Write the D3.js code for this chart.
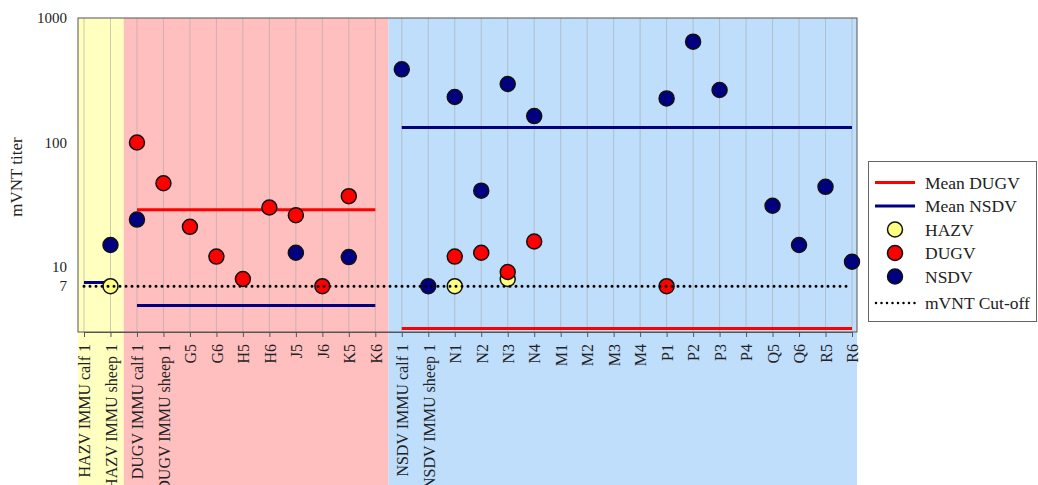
<!DOCTYPE html>
<html>
<head>
<meta charset="utf-8">
<script src="https://cdn.jsdelivr.net/npm/d3@7"></script>
<style>
  html, body { margin: 0; padding: 0; background: #fff; }
  svg { display: block; font-family: "Liberation Serif", "DejaVu Serif", serif; }
</style>
</head>
<body>
<svg id="chart" width="1038" height="485"></svg>
<script>
// Sample categories along the x axis
const categories = [
  "HAZV IMMU calf 1", "HAZV IMMU sheep 1",
  "DUGV IMMU calf 1", "DUGV IMMU sheep 1", "G5", "G6", "H5", "H6", "J5", "J6", "K5", "K6",
  "NSDV IMMU calf 1", "NSDV IMMU sheep 1", "N1", "N2", "N3", "N4", "M1", "M2", "M3", "M4",
  "P1", "P2", "P3", "P4", "Q5", "Q6", "R5", "R6"
];

// mVNT titers per virus (null = not detected)
const hazv = [null, 7, null, null, null, null, null, null, null, null, null, null,
  null, null, 7, null, 8, null, null, null, null, null, null, null, null, null, null, null, null, null];
const dugv = [null, null, 100, 47, 21, 12.1, 8, 30, 26, 7, 37, null,
  null, null, 12.1, 13, 9.1, 16, null, null, null, null, 7, null, null, null, null, null, null, null];
const nsdv = [null, 15, 24, null, null, null, null, null, 13, null, 12, null,
  387, 7, 232, 41, 295, 163, null, null, null, null, 226, 645, 264, null, 31, 15, 44, 11];

// Immunisation groups (shaded bands)
const groupNames = ["HAZV", "DUGV", "NSDV"];
const groupFirst = ["HAZV IMMU calf 1", "DUGV IMMU calf 1", "NSDV IMMU calf 1"];
const groupLast = ["HAZV IMMU sheep 1", "K6", "R6"];
const groupColors = ["#ffffc0", "#ffbfbf", "#bfdefc"];

// Group means
const meanDUGV = [
  { from: "DUGV IMMU calf 1", to: "K6", value: 28.8 },
  { from: "NSDV IMMU calf 1", to: "R6", value: 3.2 }
];
const meanNSDV = [
  { from: "HAZV IMMU calf 1", to: "HAZV IMMU sheep 1", value: 7.5 },
  { from: "DUGV IMMU calf 1", to: "K6", value: 4.9 },
  { from: "NSDV IMMU calf 1", to: "R6", value: 132 }
];
const cutoff = 7;

const yTicks = [1000, 100, 10, 7];

const svg = d3.select("#chart");
const W = 1038, H = 485;
const m = { left: 78, right: 857, top: 18, bottom: 332 };

const x = d3.scalePoint().domain(categories).range([m.left + 6, m.right - 5]);
const y = d3.scaleLog().domain([3, 1000]).range([m.bottom, m.top]);
const step = x.step();

// Background bands, running down through the label area
groupNames.forEach((g, i) => {
  const x0 = i === 0 ? m.left : x(groupFirst[i]) - step / 2;
  const x1 = i === groupNames.length - 1 ? m.right : x(groupLast[i]) + step / 2;
  svg.append("rect")
    .attr("x", x0).attr("y", m.top)
    .attr("width", x1 - x0).attr("height", H - m.top)
    .attr("fill", groupColors[i]);
});

// Vertical grid lines
svg.append("g").selectAll("line").data(categories).join("line")
  .attr("x1", d => x(d)).attr("x2", d => x(d))
  .attr("y1", m.top).attr("y2", m.bottom)
  .attr("stroke", "#a8a8a8").attr("stroke-opacity", 0.6).attr("stroke-width", 1);

// Frame
svg.append("rect")
  .attr("x", m.left).attr("y", m.top)
  .attr("width", m.right - m.left).attr("height", m.bottom - m.top)
  .attr("fill", "none").attr("stroke", "#555").attr("stroke-width", 1);

// X axis
const xAxis = d3.axisBottom(x).tickSize(5).tickSizeOuter(0);
const gx = svg.append("g").attr("transform", `translate(0,${m.bottom})`).call(xAxis);
gx.select(".domain").attr("stroke", "#555");
gx.selectAll(".tick line").attr("stroke", "#555");
gx.selectAll(".tick text")
  .attr("font-family", "Liberation Serif, serif")
  .attr("font-size", 16)
  .attr("fill", "#222")
  .attr("text-anchor", "end")
  .attr("transform", "rotate(-90)")
  .attr("x", -12).attr("y", 0).attr("dy", "0.36em");

// Y axis labels
const gy = svg.append("g");
gy.selectAll("text").data(yTicks).join("text")
  .attr("x", m.left - 11).attr("y", d => y(d)).attr("dy", "0.35em")
  .attr("text-anchor", "end")
  .attr("font-size", 15).attr("fill", "#222")
  .text(d => d);

svg.append("text")
  .attr("transform", `translate(22,${(m.top + m.bottom) / 2 + 2}) rotate(-90)`)
  .attr("text-anchor", "middle")
  .attr("font-size", 17).attr("fill", "#222")
  .text("mVNT titer");

// Mean lines
const drawMeans = (data, color) => {
  svg.append("g").selectAll("line").data(data).join("line")
    .attr("x1", d => x(d.from)).attr("x2", d => x(d.to))
    .attr("y1", d => y(d.value)).attr("y2", d => y(d.value))
    .attr("stroke", color).attr("stroke-width", 3);
};
drawMeans(meanDUGV, "#ff0000");
drawMeans(meanNSDV, "#000080");

// Points
const drawPoints = (vals, fill) => {
  const pts = categories.map((c, i) => ({ c, v: vals[i] })).filter(d => d.v != null);
  svg.append("g").selectAll("circle").data(pts).join("circle")
    .attr("cx", d => x(d.c)).attr("cy", d => y(d.v)).attr("r", 7.5)
    .attr("fill", fill).attr("stroke", "#111").attr("stroke-width", 1.5);
};
drawPoints(hazv, "#ffff80");
drawPoints(dugv, "#ff0000");
drawPoints(nsdv, "#000080");

// Cut-off line
svg.append("line")
  .attr("x1", x(categories[0])).attr("x2", x(categories[categories.length - 1]))
  .attr("y1", y(cutoff)).attr("y2", y(cutoff))
  .attr("stroke", "#000").attr("stroke-width", 3)
  .attr("stroke-linecap", "round").attr("stroke-dasharray", "0,6");

// Legend
const lg = svg.append("g");
lg.append("rect")
  .attr("x", 868.5).attr("y", 161.5).attr("width", 168).attr("height", 160)
  .attr("fill", "#fff").attr("stroke", "#666").attr("stroke-width", 1);
const legendItems = [
  { label: "Mean DUGV", type: "line", color: "#ff0000" },
  { label: "Mean NSDV", type: "line", color: "#000080" },
  { label: "HAZV", type: "dot", color: "#ffff80" },
  { label: "DUGV", type: "dot", color: "#ff0000" },
  { label: "NSDV", type: "dot", color: "#000080" },
  { label: "mVNT Cut-off", type: "dash", color: "#000" }
];
const rowY = [182.5, 206, 229.5, 253, 276.5, 303];
legendItems.forEach((it, i) => {
  const ly = rowY[i];
  if (it.type === "line") {
    lg.append("line").attr("x1", 875).attr("x2", 915).attr("y1", ly).attr("y2", ly)
      .attr("stroke", it.color).attr("stroke-width", 3);
  } else if (it.type === "dot") {
    lg.append("circle").attr("cx", 895).attr("cy", ly).attr("r", 7.5)
      .attr("fill", it.color).attr("stroke", "#111").attr("stroke-width", 1.5);
  } else {
    lg.append("line").attr("x1", 876).attr("x2", 915).attr("y1", ly).attr("y2", ly)
      .attr("stroke", it.color).attr("stroke-width", 2.5)
      .attr("stroke-linecap", "round").attr("stroke-dasharray", "0,5.5");
  }
  lg.append("text").attr("x", 925).attr("y", ly).attr("dy", "0.35em")
    .attr("font-size", 17.5).attr("fill", "#222").text(it.label);
});
</script>
</body>
</html>
